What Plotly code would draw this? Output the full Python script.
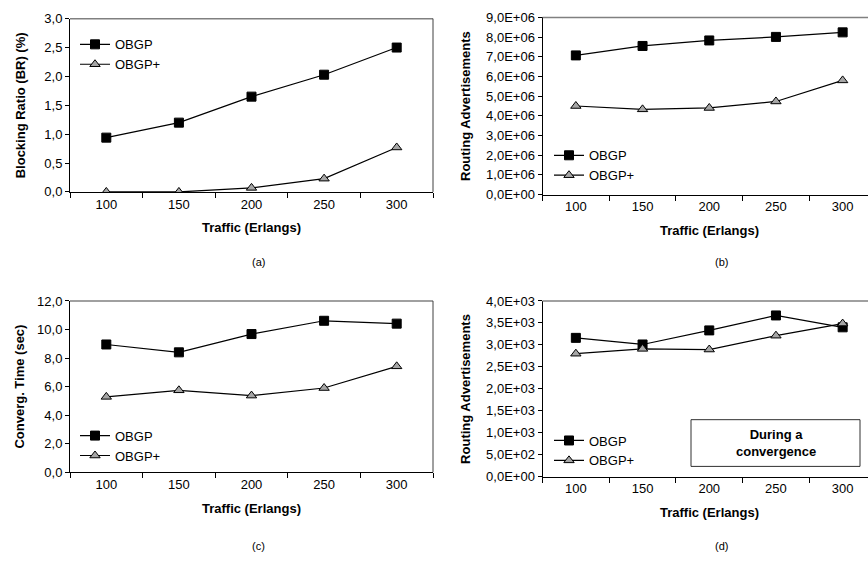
import plotly.graph_objects as go

W, H = 868, 562

traffic = [100, 150, 200, 250, 300]
x_tick_labels = ["100", "150", "200", "250", "300"]

# (a) Blocking ratio (%)
br_obgp = [0.94, 1.20, 1.65, 2.03, 2.50]
br_obgp_plus = [0.0, 0.0, 0.07, 0.23, 0.77]
a_ticks = [0, 0.5, 1.0, 1.5, 2.0, 2.5, 3.0]
a_ticktext = ["0,0", "0,5", "1,0", "1,5", "2,0", "2,5", "3,0"]

# (b) Routing advertisements
ra_obgp = [7.07e6, 7.55e6, 7.83e6, 8.01e6, 8.24e6]
ra_obgp_plus = [4.50e6, 4.33e6, 4.40e6, 4.73e6, 5.80e6]
b_ticks = [0, 1e6, 2e6, 3e6, 4e6, 5e6, 6e6, 7e6, 8e6, 9e6]
b_ticktext = ["0,0E+00", "1,0E+06", "2,0E+06", "3,0E+06", "4,0E+06",
              "5,0E+06", "6,0E+06", "7,0E+06", "8,0E+06", "9,0E+06"]

# (c) Convergence time (sec)
ct_obgp = [8.95, 8.40, 9.68, 10.61, 10.41]
ct_obgp_plus = [5.28, 5.74, 5.37, 5.90, 7.42]
c_ticks = [0, 2, 4, 6, 8, 10, 12]
c_ticktext = ["0,0", "2,0", "4,0", "6,0", "8,0", "10,0", "12,0"]

# (d) Routing advertisements during a convergence
rc_obgp = [3160, 3010, 3330, 3670, 3400]
rc_obgp_plus = [2800, 2910, 2895, 3210, 3485]
d_ticks = [0, 500, 1000, 1500, 2000, 2500, 3000, 3500, 4000]
d_ticktext = ["0,0E+00", "5,0E+02", "1,0E+03", "1,5E+03", "2,0E+03",
              "2,5E+03", "3,0E+03", "3,5E+03", "4,0E+03"]

series_names = ["OBGP", "OBGP+"]

FONT = "Liberation Sans, Arial, sans-serif"


def px_x(p):
    return p / W


def px_y(p):
    return 1 - p / H


panels = [
    dict(s="", l=70, r=433, t=12, b=190, xr=[75, 325], yr=[0, 3.0], tv=a_ticks, tt=a_ticktext,
         d1=br_obgp, d2=br_obgp_plus, yt="Blocking Ratio (BR) (%)", cap="(a)", lg=(75, 23), rb=True),
    dict(s="2", l=542.5, r=868, t=10.7, b=192.7, xr=[75, 319], yr=[0, 9e6], tv=b_ticks, tt=b_ticktext,
         d1=ra_obgp, d2=ra_obgp_plus, yt="Routing Advertisements", cap="(b)", lg=(549, 137), rb=False),
    dict(s="3", l=70, r=433, t=302, b=478, xr=[75, 325], yr=[0, 12], tv=c_ticks, tt=c_ticktext,
         d1=ct_obgp, d2=ct_obgp_plus, yt="Converg. Time (sec)", cap="(c)", lg=(75, 425), rb=True),
    dict(s="4", l=542.5, r=868, t=302, b=482.7, xr=[75, 319], yr=[0, 4000], tv=d_ticks, tt=d_ticktext,
         d1=rc_obgp, d2=rc_obgp_plus, yt="Routing Advertisements", cap="(d)", lg=(549, 430), rb=False),
]

fig = go.Figure()
layout = dict(
    width=W, height=H,
    margin=dict(l=0, r=0, t=0, b=0),
    paper_bgcolor="white", plot_bgcolor="white",
    font=dict(family=FONT, size=13, color="black"),
    showlegend=True,
)
annotations = []
shapes = []

for i, p in enumerate(panels):
    s = p["s"]
    xa = "xaxis" + s
    ya = "yaxis" + s
    xref = "x" + s
    yref = "y" + s
    leg = "legend" + s
    layout[xa] = dict(
        domain=[px_x(p["l"]), px_x(p["r"])], anchor=yref,
        range=p["xr"], tickvals=traffic, ticktext=x_tick_labels, ticks="",
        showline=True, linecolor="black", linewidth=1, showgrid=False, zeroline=False,
        minor=dict(ticks="outside", tick0=75, dtick=50, ticklen=5, tickcolor="black", showgrid=False),
        tickfont=dict(size=13), fixedrange=True,
    )
    layout[ya] = dict(
        domain=[px_y(p["b"]), px_y(p["t"])], anchor=xref,
        range=p["yr"], tickvals=p["tv"], ticktext=p["tt"], ticks="outside", ticklen=4,
        tickcolor="black", showline=True, linecolor="black", linewidth=1,
        showgrid=False, zeroline=False, tickfont=dict(size=13), fixedrange=True,
    )
    layout[leg] = dict(
        x=px_x(p["lg"][0]), y=px_y(p["lg"][1]), xanchor="left", yanchor="top",
        bgcolor="rgba(0,0,0,0)", font=dict(size=13), tracegroupgap=0,
        itemwidth=30,
    )
    fig.add_trace(go.Scatter(
        x=traffic, y=p["d1"], name=series_names[0], mode="lines+markers",
        xaxis=xref, yaxis=yref, legend=leg,
        line=dict(color="black", width=1.2),
        marker=dict(symbol="square", size=9, color="black", line=dict(color="black", width=1)),
    ))
    fig.add_trace(go.Scatter(
        x=traffic, y=p["d2"], name=series_names[1], mode="lines+markers",
        xaxis=xref, yaxis=yref, legend=leg,
        line=dict(color="black", width=1.2),
        marker=dict(symbol="triangle-up", size=9, color="#a6a6a6", line=dict(color="black", width=1)),
    ))
    shapes.append(dict(type="line", xref=xref + " domain", yref=yref + " domain",
                       x0=0, x1=1, y0=1, y1=1, line=dict(color="#808080", width=1.5)))
    if p["rb"]:
        shapes.append(dict(type="line", xref=xref + " domain", yref=yref + " domain",
                           x0=1, x1=1, y0=0, y1=1, line=dict(color="#404040", width=1)))
    xc = (p["l"] + p["r"]) / 2 if p["rb"] else (p["l"] + 876) / 2
    annotations.append(dict(text="<b>Traffic (Erlangs)</b>", x=px_x(xc), y=px_y(p["b"] + 37),
                            xref="paper", yref="paper", showarrow=False,
                            xanchor="center", yanchor="middle", font=dict(size=13)))
    tx = 20 if p["rb"] else 466
    annotations.append(dict(text="<b>" + p["yt"] + "</b>", x=px_x(tx), y=px_y((p["t"] + p["b"]) / 2),
                            xref="paper", yref="paper", showarrow=False, textangle=-90,
                            xanchor="center", yanchor="middle", font=dict(size=13)))
    cx = 258 if p["rb"] else 721
    cy = 262 if i < 2 else 554
    annotations.append(dict(text=p["cap"], x=px_x(cx), y=px_y(cy), xref="paper", yref="paper",
                            showarrow=False, xanchor="center", yanchor="middle", font=dict(size=11)))

shapes.append(dict(type="rect", xref="paper", yref="paper",
                   x0=px_x(691), x1=px_x(860), y0=px_y(472), y1=px_y(424),
                   line=dict(color="#303030", width=1), fillcolor="white"))
annotations.append(dict(text="<b>During a<br>convergence</b>", x=px_x(775.5), y=px_y(448),
                        xref="paper", yref="paper", showarrow=False, xanchor="center",
                        yanchor="middle", font=dict(size=13), align="center"))

layout["annotations"] = annotations
layout["shapes"] = shapes
fig.update_layout(**layout)
fig.write_html("out.html", config={"displayModeBar": False},
               post_script="document.body.style.margin='0';document.body.style.overflow='hidden';")
